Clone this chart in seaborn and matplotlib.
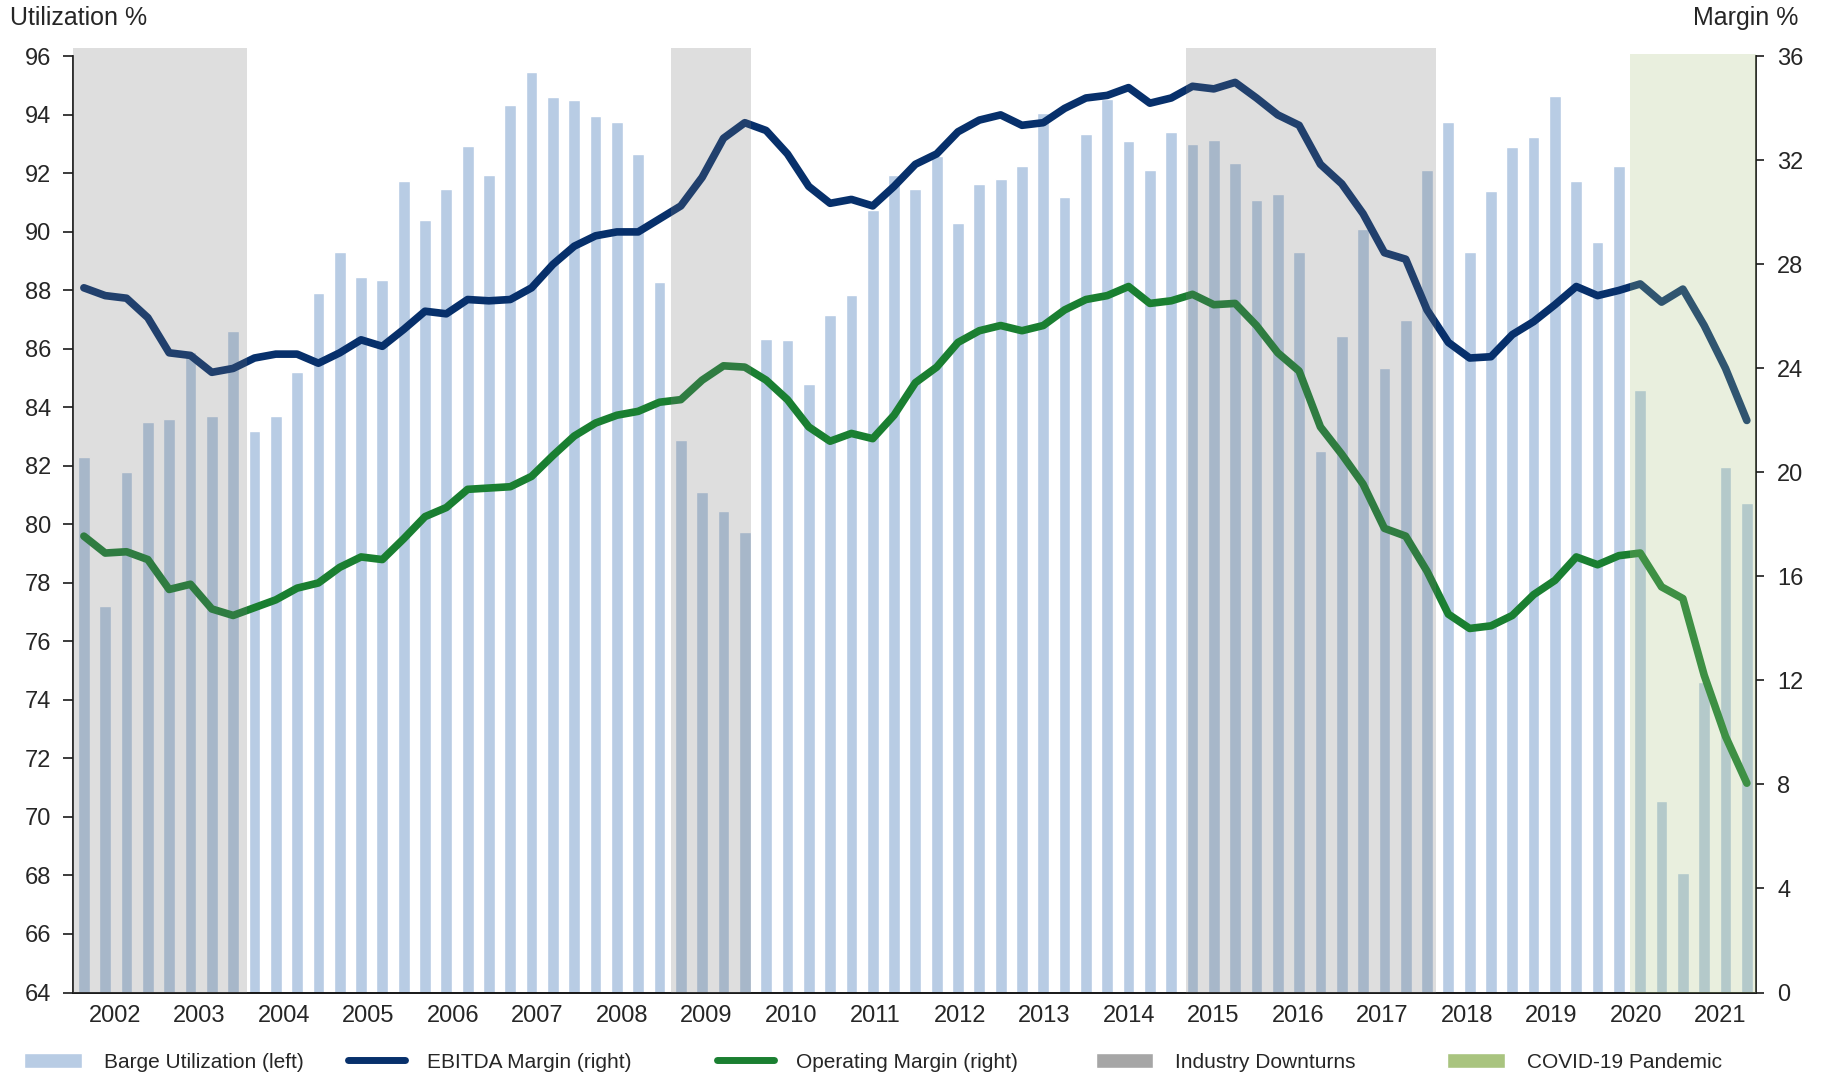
import numpy as np
import pandas as pd
import seaborn as sns
import matplotlib.pyplot as plt
from matplotlib.patches import Patch
from matplotlib.lines import Line2D

# quarterly data, 2002Q1 .. 2021Q3
years = list(range(2002, 2022))
quarters = [f"{y}Q{q}" for y in years for q in range(1, 5)][:79]

# barge utilization, % (left axis)
utilization = [
    82.3, 77.2, 81.8, 83.5, 83.6, 85.9, 83.7, 86.6,
    83.2, 83.7, 85.2, 87.9, 89.3, 88.45, 88.35, 91.75,
    90.4, 91.45, 92.95, 91.95, 94.35, 95.45, 94.6, 94.5,
    93.95, 93.75, 92.65, 88.3, 82.9, 81.1, 80.45, 79.75,
    86.35, 86.3, 84.8, 87.15, 87.85, 90.75, 91.95, 91.45,
    92.6, 90.3, 91.65, 91.8, 92.25, 94.05, 91.2, 93.35,
    94.55, 93.1, 92.1, 93.4, 93.0, 93.15, 92.35, 91.1,
    91.3, 89.3, 82.5, 86.45, 90.1, 85.35, 87.0, 92.1,
    93.75, 89.3, 91.4, 92.9, 93.25, 94.65, 91.75, 89.65,
    92.25, 84.6, 70.55, 68.1, 74.6, 81.95, 80.75,
]

# EBITDA margin, % (right axis)
ebitda_margin = [
    27.1, 26.8, 26.7, 25.95, 24.6, 24.5, 23.85, 24.0,
    24.4, 24.55, 24.55, 24.2, 24.6, 25.1, 24.85, 25.5,
    26.2, 26.1, 26.65, 26.6, 26.65, 27.1, 28.0, 28.7,
    29.1, 29.25, 29.25, 29.75, 30.25, 31.35, 32.85, 33.45,
    33.15, 32.25, 31.0, 30.35, 30.5, 30.25, 31.0, 31.85,
    32.25, 33.1, 33.55, 33.75, 33.35, 33.45, 34.0, 34.4,
    34.5, 34.8, 34.2, 34.4, 34.85, 34.75, 35.0, 34.4,
    33.75, 33.35, 31.85, 31.1, 29.95, 28.45, 28.2, 26.25,
    25.0, 24.4, 24.45, 25.3, 25.8, 26.45, 27.15, 26.8,
    27.0, 27.25, 26.55, 27.05, 25.65, 24.0, 22.0,
]

# operating margin, % (right axis)
operating_margin = [
    17.55, 16.9, 16.95, 16.65, 15.5, 15.7, 14.75, 14.5,
    14.8, 15.1, 15.55, 15.75, 16.35, 16.75, 16.65, 17.45,
    18.3, 18.65, 19.35, 19.4, 19.45, 19.85, 20.65, 21.4,
    21.9, 22.2, 22.35, 22.7, 22.8, 23.55, 24.1, 24.05,
    23.55, 22.8, 21.75, 21.2, 21.5, 21.3, 22.2, 23.45,
    24.05, 25.0, 25.45, 25.65, 25.45, 25.65, 26.25, 26.65,
    26.8, 27.15, 26.5, 26.6, 26.85, 26.45, 26.5, 25.65,
    24.6, 23.9, 21.75, 20.7, 19.55, 17.85, 17.55, 16.2,
    14.55, 14.0, 14.1, 14.5, 15.3, 15.85, 16.75, 16.45,
    16.8, 16.9, 15.6, 15.15, 12.2, 9.85, 8.05,
]

# shaded periods, in quarter positions
downturns = [(-0.5, 7.65), (27.53, 31.28), (51.69, 63.44)]
covid = (72.54, 78.45)

df = pd.DataFrame({
    "quarter": quarters,
    "utilization": utilization,
    "ebitda": ebitda_margin,
    "operating": operating_margin,
})
df["pos"] = np.arange(len(df))

bar_color = "#B8CCE4"
ebitda_color = "#07306B"
op_color = "#1A7F31"
spine_color = "#1a1a1a"

sns.set_style("white")
plt.rcParams["font.family"] = ["Liberation Sans", "DejaVu Sans"]

fig = plt.figure(figsize=(18.26, 10.76), dpi=100)
ax = fig.add_axes([0.0401, 0.0776, 0.9218, 0.87])

sns.barplot(data=df, x="quarter", y="utilization", color=bar_color,
            saturation=1, width=0.55, errorbar=None, ax=ax)
ax.set_ylim(64, 96)
ax.set_yticks(range(64, 97, 2))
ax.set_xlim(-0.5, 78.45)
ax.set_xticks(np.linspace(1.45, 76.76, len(years)))
ax.set_xticklabels([str(y) for y in years])
ax.set_xlabel("")
ax.set_ylabel("")

ax2 = ax.twinx()
line_kw = dict(lw=5.5, solid_capstyle="round", solid_joinstyle="round")
sns.lineplot(data=df, x="pos", y="ebitda", color=ebitda_color, ax=ax2, **line_kw)
sns.lineplot(data=df, x="pos", y="operating", color=op_color, ax=ax2, **line_kw)
ax2.set_ylim(0, 36)
ax2.set_yticks(range(0, 37, 4))
ax2.set_xlim(-0.5, 78.45)
ax2.set_xlabel("")
ax2.set_ylabel("")

# shading sits on top of bars and lines
for start, end in downturns:
    ax2.axvspan(start, end, ymin=0, ymax=1.009, color="#757575", alpha=0.24,
                lw=0, zorder=5, clip_on=False)
ax2.axvspan(covid[0], covid[1], ymin=0, ymax=1.003, color="#A9C47F", alpha=0.256,
            lw=0, zorder=5, clip_on=False)

for a in (ax, ax2):
    a.spines["top"].set_visible(False)
    for s in a.spines.values():
        s.set_color(spine_color)
        s.set_linewidth(1.3)
ax.spines["right"].set_visible(False)
ax2.spines["left"].set_visible(False)

ax.tick_params(axis="y", direction="out", length=7, width=1.2, color=spine_color,
               labelsize=17, pad=9, left=True)
ax.tick_params(axis="x", length=0, labelsize=17, pad=9)
ax2.tick_params(axis="y", direction="out", length=6, width=1.2, color=spine_color,
                labelsize=17, pad=9, right=True)

fig.text(0.0055, 0.9772, "Utilization %", fontsize=18, ha="left", va="baseline")
fig.text(0.9851, 0.9772, "Margin %", fontsize=18, ha="right", va="baseline")

handles = [
    Patch(facecolor=bar_color, label="Barge Utilization (left)"),
    Line2D([0], [0], color=ebitda_color, lw=5, solid_capstyle="round",
           label="EBITDA Margin (right)"),
    Line2D([0], [0], color=op_color, lw=5, solid_capstyle="round",
           label="Operating Margin (right)"),
    Patch(facecolor="#A6A6A6", label="Industry Downturns"),
    Patch(facecolor="#A9C47F", label="COVID-19 Pandemic"),
]
# one legend per entry, placed where each sits in the original
legend_x = [0.0134, 0.1906, 0.3924, 0.6002, 0.7927]
for h, lx in zip(handles, legend_x):
    fig.legend(handles=[h], loc="center left", bbox_to_anchor=(lx, 0.013),
               frameon=False, fontsize=15, handlelength=2.75,
               handletextpad=1.05, borderpad=0, borderaxespad=0)

fig.savefig("out.png", dpi=100)
